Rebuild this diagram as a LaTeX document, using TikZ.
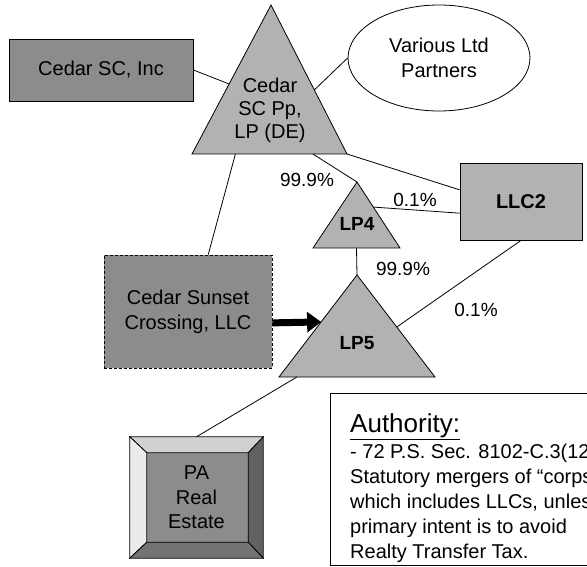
\documentclass[tikz,border=0pt]{standalone}
\usepackage{fontspec}
\setmainfont{Liberation Sans}
\usetikzlibrary{calc,shapes.geometric,arrows.meta,backgrounds}

\colorlet{entity}{black!45}
\colorlet{partner}{black!30}
\tikzset{
  entity/.style={rectangle,draw,thick,fill=entity,align=center,inner sep=0pt,
    font=\fontsize{20}{24}\selectfont},
  partner/.style={draw,thick,fill=partner},
  tag/.style={align=center,inner sep=0pt,font=\fontsize{20}{23}\selectfont},
  pct/.style={inner sep=0pt,font=\fontsize{19}{22}\selectfont},
  own/.style={thick},
  bevel/.style={draw,thick},
}

\begin{document}
\begin{tikzpicture}[x=1pt,y=-1pt]
  \useasboundingbox (0,0) rectangle (587,567);

  % boxes
  \node[entity,minimum width=184pt,minimum height=62pt] (inc) at (101,70) {Cedar SC, Inc};
  \node[ellipse,draw,thick,inner sep=0pt,minimum width=182pt,minimum height=106pt,
    align=center,font=\fontsize{20}{25}\selectfont] (ltd) at (439,58) {Various Ltd\\Partners};
  \node[entity,fill=partner,minimum width=122pt,minimum height=77pt,
    font=\bfseries\fontsize{20}{24}\selectfont] (llc2) at (521,201.5) {LLC2};
  \node[entity,dash pattern=on 3pt off 2pt,minimum width=168pt,minimum height=113pt,
    font=\fontsize{20}{25}\selectfont] (scx) at (188,311.5) {Cedar Sunset\\Crossing, LLC};

  % partnerships
  \filldraw[partner] (192,154) coordinate (pp-l) -- (271,5) coordinate (pp-t)
    -- (347,154) coordinate (pp-r) -- cycle;
  \node[tag] (pp) at (270,110) {Cedar\\SC Pp,\\LP (DE)};
  \filldraw[partner] (313,248) coordinate (lp4-l) -- (357,182) coordinate (lp4-t)
    -- (400,248) coordinate (lp4-r) -- cycle;
  \node[tag,font=\bfseries\fontsize{19}{23}\selectfont] (lp4) at (357,224) {LP4};
  \filldraw[partner] (279,377) coordinate (lp5-l) -- (357,275) coordinate (lp5-t)
    -- (435,377) coordinate (lp5-r) -- cycle;
  \node[tag,font=\bfseries\fontsize{19}{23}\selectfont] (lp5) at (357,343) {LP5};

  % real estate
  \node[tag,minimum width=133pt,minimum height=121pt,font=\fontsize{20}{24.5}\selectfont]
    (estate) at (196.5,497.5) {PA\\Real\\Estate};
  \begin{scope}[on background layer]
    \coordinate (e-nw) at ($(estate.north west)+(17,16)$);
    \coordinate (e-ne) at ($(estate.north east)+(-15,16)$);
    \coordinate (e-sw) at ($(estate.south west)+(17,-16)$);
    \coordinate (e-se) at ($(estate.south east)+(-15,-16)$);
    \filldraw[bevel,fill=black!45] (e-nw) rectangle (e-se);
    \filldraw[bevel,fill=black!18] (estate.north west) -- (estate.north east) -- (e-ne) -- (e-nw) -- cycle;
    \filldraw[bevel,fill=black!8] (estate.north west) -- (e-nw) -- (e-sw) -- (estate.south west) -- cycle;
    \filldraw[bevel,fill=black!62] (estate.north east) -- (estate.south east) -- (e-se) -- (e-ne) -- cycle;
    \filldraw[bevel,fill=black!55] (estate.south west) -- (e-sw) -- (e-se) -- (estate.south east) -- cycle;
  \end{scope}

  % ownership lines
  \draw[own] (inc.east) -- ($(pp-l)!0.47!(pp-t)$);
  \draw[own] ($(pp-r)!0.43!(pp-t)$) -- (ltd.west);
  \draw[own] (pp-r) -- ($(llc2.north west)!0.35!(llc2.south west)$);
  \draw[own] ($(pp-l)!0.78!(pp-r)$) -- (lp4-t);
  \draw[own] ($(lp4-r)!0.62!(lp4-t)$) -- ($(llc2.north west)!0.65!(llc2.south west)$);
  \draw[own] ($(lp4-l)!0.5!(lp4-r)$) -- (lp5-t);
  \draw[own] ($(lp5-r)!0.49!(lp5-t)$) -- (llc2.south);
  \draw[own] ($(pp-l)!0.28!(pp-r)$) -- ($(scx.north west)!0.62!(scx.north east)$);
  \draw[own] ($(lp5-l)!0.115!(lp5-r)$) -- (estate.north);
  \draw[-{Triangle[length=14pt,width=20pt]},line width=7pt]
    ($(scx.north east)!0.6!(scx.south east)$) -- ($(lp5-l)!0.54!(lp5-t)$);

  \node[pct] (pp-lp4) at (307,180) {99.9\%};
  \node[pct] (llc2-lp4) at (415,200) {0.1\%};
  \node[pct] (lp4-lp5) at (403,269) {99.9\%};
  \node[pct] (llc2-lp5) at (476,310) {0.1\%};

  % note
  \node[draw,thick,anchor=north west,inner sep=0pt,minimum width=300pt,minimum height=172pt]
    (auth) at (330,393) {};
  \node[anchor=base west,inner sep=0pt,font=\fontsize{26}{30}\selectfont]
    (auth-head) at (350,432) {\underline{Authority:}};
  \node[anchor=north west,align=left,inner sep=0pt,font=\fontsize{20}{25}\selectfont]
    (auth-text) at (350,444) {- 72 P.S. Sec. 8102-C.3(12\\Statutory mergers of “corps\\
    which includes LLCs, unles\\primary intent is to avoid\\Realty Transfer Tax.};
\end{tikzpicture}
\end{document}
